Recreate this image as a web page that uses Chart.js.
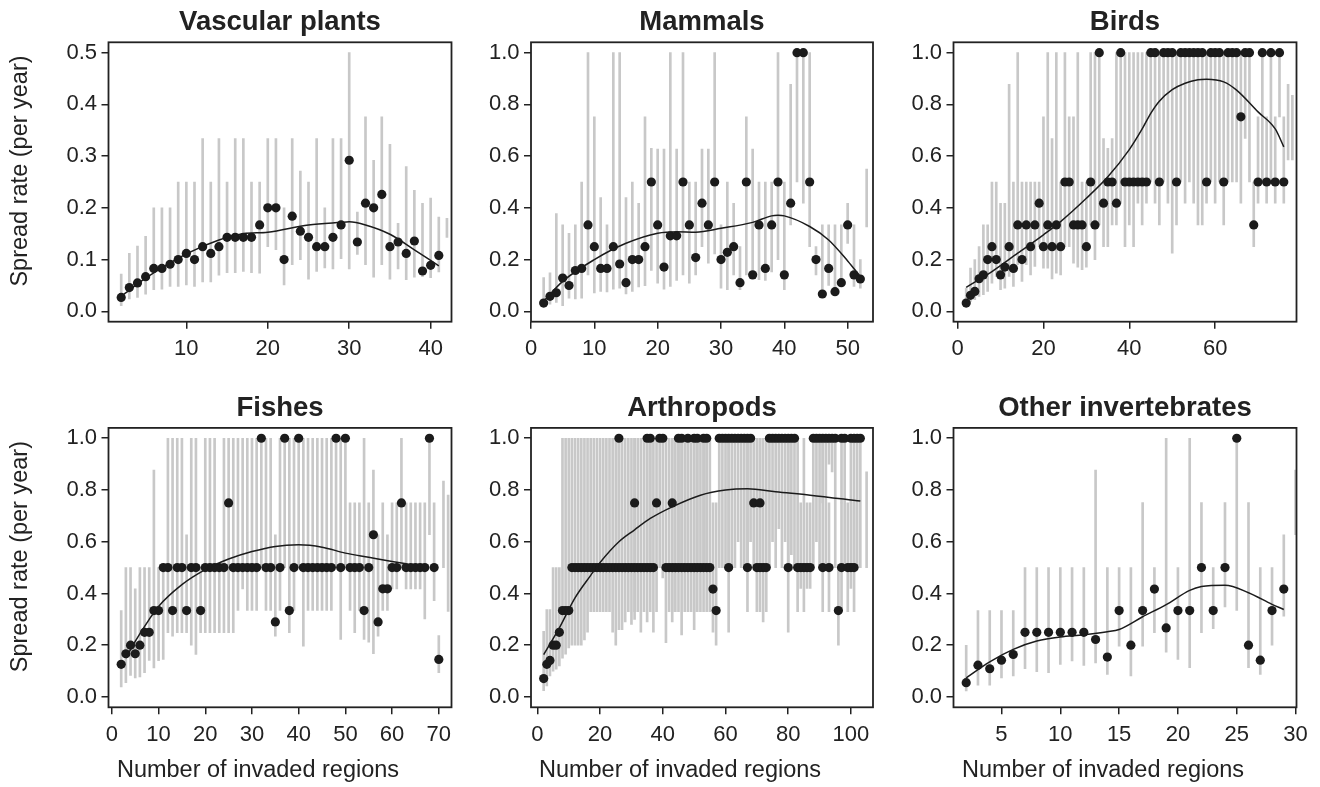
<!DOCTYPE html>
<html>
<head>
<meta charset="utf-8">
<title>Spread rate by number of invaded regions</title>
<script src="https://cdn.jsdelivr.net/npm/chart.js@4.4.1/dist/chart.umd.min.js"></script>
<style>
  html, body { margin: 0; padding: 0; background: #fff; }
  #wrap { position: relative; width: 1320px; height: 787px; overflow: hidden; }
  #wrap canvas { position: absolute; }
</style>
</head>
<body>
<div id="wrap">
  <canvas id="vasc"></canvas>
  <canvas id="mam"></canvas>
  <canvas id="bird"></canvas>
  <canvas id="fish"></canvas>
  <canvas id="arth"></canvas>
  <canvas id="inv"></canvas>
</div>
<script>
// ---------- data ----------
// each panel: X = number of invaded regions, Y = spread rate (null = bar only),
// LO / HI = ends of the grey interval, FitX / FitY = the smooth trend line

// Vascular plants
var vascX  = [2,3,4,5,6,7,8,9,10,11, 12,13,14,15,16,17,18,19,20,21, 22,23,24,25,26,27,28,29,30,31, 32,33,34,35,36,37,38,39,40,41, 42];
var vascY  = [.027,.046,.055,.067,.083,.083,.091,.100,.112,.100, .125,.112,.125,.143,.143,.143,.143,.167,.200,.200, .100,.184,.155,.143,.125,.125,.143,.167,.292,.134, .209,.200,.226,.125,.134,.112,.136,.078,.089,.108, null];
var vascLo = [.011,.024,.027,.033,.042,.043,.048,.048,.051,.048, .057,.057,.070,.075,.075,.077,.075,.074,.125,.119, .051,.090,.100,.062,.077,.084,.082,.102,.082,.110, .090,.066,.090,.062,.082,.061,.066,.067,.065,.076, .143];
var vascHi = [.072,.112,.126,.145,.200,.200,.200,.250,.250,.250, .334,.250,.334,.250,.334,.334,.250,.250,.334,.334, .200,.334,.271,.250,.334,.200,.334,.334,.500,.192, .376,.292,.376,.323,.170,.280,.234,.209,.219,.182, .180];
var vascFitX = [2,5,10,14,17,20,25,29,30,32,35,38,41];
var vascFitY = [.029,.064,.111,.138,.150,.153,.167,.172,.173,.167,.149,.119,.088];

// Mammals
var mamX  = [2,3,4,5,6,7,8,9,10,11, 12,13,14,15,16,17,18,19,20,21, 22,23,24,25,26,27,28,29,30,31, 32,33,34,35,36,37,38,39,40,41, 42,43,44,45,46,47,48,49,50,51, 52,53];
var mamY  = [.032,.058,.072,.129,.100,.158,.166,.334,.250,.166, .166,.250,.183,.111,.200,.200,.250,.500,.334,.171, .292,.292,.500,.334,.208,.418,.334,.500,.200,.228, .250,.111,.500,.141,.334,.166,.334,.500,.141,.418, 1,1,.500,.200,.067,.166,.076,.111,.334,.141, .125,null];
var mamLo = [.019,.028,.035,.022,.051,.048,.051,.141,.071,.077, .075,.086,.090,.067,.077,.094,.099,.158,.109,.086, .096,.120,.141,.109,.141,.250,.186,.222,.090,.084, .141,.084,.141,.141,.122,.120,.152,.200,.084,.334, .500,.418,.250,.141,.071,.100,.071,.096,.263,.096, .090,.326];
var mamHi = [.131,.149,.378,.334,.302,.334,.500,1,.752,.440, .334,1,1,.440,.500,.418,.752,.630,.627,.627, 1,.627,1,.500,.500,.627,.627,1,.334,.500, .418,.250,.752,.627,.500,.500,.500,1,.500,.878, 1,1,1,.250,.334,.334,.334,.334,.418,.334, .200,.550];
var mamFitX = [2,5,10,15,20,23,26,30,35,38,39,40,44,47,50,52];
var mamFitY = [.039,.116,.200,.263,.302,.308,.306,.321,.344,.369,.371,.369,.328,.276,.195,.135];

// Birds
var birdX  = [2,3,4,5,6,7,8,9,10,11, 12,13,14,15,16,17,18,19,20,21, 22,23,24,25,26,27,28,29,30,31, 32,33,34,35,36,37,38,39,40,41, 42,43,44,45,46,47,48,49,50,51, 52,53,54,55,56,57,58,59,60,61, 62,63,64,65,66,67,68,69,70,71, 72,73,74,75,76,77,78];
var birdY  = [.032,.062,.077,.126,.141,.200,.250,.200,.141,.171, .250,.166,.334,.200,.334,.250,.334,.418,.250,.334, .250,.334,.250,.500,.500,.334,.334,.334,.250,.500, .334,1,.418,.500,.500,.418,1,.500,.500,.500, .500,.500,.500,1,1,.500,1,1,1,.500, 1,1,1,1,1,1,.500,1,1,1, .500,1,1,1,.752,1,1,.334,.500,1, .500,1,.500,1,.500,null,null];
var birdLo = [.019,.038,.045,.058,.064,.077,.109,.135,.084,.090, .135,.096,.180,.116,.180,.141,.174,.250,.167,.167, .125,.148,.141,.250,.250,.186,.171,.161,.171,.334, .200,.334,.250,.250,.334,.334,.418,.250,.334,.250, .418,.334,.418,.500,.418,.334,.500,.418,.225,.334, .500,.418,.500,.418,.334,.334,.418,.500,.418,.500, .334,.500,.500,.500,.418,.668,.500,.250,.418,.500, .418,.500,.418,.752,.418,.585,.585];
var birdHi = [.090,.167,.200,.250,.334,.334,.500,.500,.418,.418, .878,.500,1,.500,.500,.500,.500,.500,.752,1, .668,1,.500,1,.752,.752,1,.500,.500,1, 1,1,.668,.630,.668,1,1,1,1,1, 1,1,1,1,1,1,1,1,1,1, 1,1,1,1,1,1,1,1,1,1, 1,1,1,1,1,1,1,.500,.752,1, .752,1,.752,1,.752,.878,.835];
var birdFitX = [2,8,14,20,24,30,35,40,43,45,47,50,53,56,58,62,65,70,74,76];
var birdFitY = [.093,.154,.225,.296,.347,.437,.520,.625,.705,.765,.812,.857,.882,.895,.897,.887,.855,.771,.705,.636];

// Fishes
var fishX  = [2,3,4,5,6,7,8,9,10,11, 12,13,14,15,16,17,18,19,20,21, 22,23,24,25,26,27,28,29,30,31, 32,33,34,35,36,37,38,39,40,41, 42,43,44,45,46,47,48,49,50,51, 52,53,54,55,56,57,58,59,60,61, 62,63,64,65,66,67,68,69,70,71, 72];
var fishY  = [.126,.167,.200,.167,.200,.250,.250,.334,.334,.500, .500,.334,.500,.500,.334,.500,.500,.334,.500,.500, .500,.500,.500,.750,.500,.500,.500,.500,.500,.500, 1,.500,.500,.290,.500,1,.334,.500,1,.500, .500,.500,.500,.500,.500,.500,1,.500,1,.500, .500,.500,.334,.500,.627,.290,.418,.418,.500,.500, .750,.500,.500,.500,.500,.500,1,.500,.145,null, null];
var fishLo = [.039,.055,.083,.074,.077,.094,.141,.112,.140,.145, .248,.235,.248,.248,.248,.200,.164,.248,.248,.248, .248,.248,.248,.248,.248,.334,.418,.334,.334,.334, .500,.334,.334,.235,.334,.500,.248,.334,.500,.196, .334,.334,.334,.334,.334,.334,.500,.222,.500,.334, .248,.334,.222,.212,.167,.235,.334,.334,.418,.418, .500,.418,.418,.418,.418,.302,.627,.372,.094,.500, .331];
var fishHi = [.334,.500,.500,.418,.500,.500,.500,.877,.500,.500, 1,1,1,1,.627,1,1,.500,1,1, 1,.500,1,1,1,1,1,1,1,1, 1,1,1,.627,1,1,1,1,1,1, 1,1,1,1,1,1,1,1,1,.750, .750,.750,1,.750,.877,.627,.750,.627,.750,.750, 1,.750,.750,.750,.750,.750,1,.750,.237,.834, .780];
var fishFitX = [3,5,8,10,15,20,25,30,35,40,45,50,55,60,63];
var fishFitY = [.150,.215,.300,.350,.434,.492,.533,.562,.582,.588,.579,.556,.540,.524,.515];

// Arthropods
var arthX  = [2,3,4,5,6,7,8,9,10,11, 12,13,14,15,16,17,18,19,20,21, 22,23,24,25,26,26,27,28,29,30, 31,31,32,33,34,35,35,36,36,37,
              38,39,40,41,42,43,43,44,45,45, 46,46,47,48,48,49,50,50,51,51, 52,53,53,54,54,55,56,57,58,59, 60,61,61,62,63,64,65,66,67,67,
              68,69,70,71,71,72,73,74,75,76, 77,78,79,80,80,81,82,83,84,85, 86,87,88,89,90,91,91,92,93,93, 94,95,96,97,97,98,99,100,100,101,
              101,102,103,105];
var arthY  = [.071,.126,.141,.200,.200,.250,.334,.334,.334,.500, .5,.5,.5,.5,.5,.5,.5,.5,.5,.5, .5,.5,.5,.5,1,.5,.5,.5,.5,.5, .75,.5,.5,.5,.5,1,.5,1,.5,.5,
              .75,1,1,.5,.5,.75,.5,.5,1,.5, 1,.5,.5,1,.5,.5,1,.5,1,.5, .5,1,.5,1,.5,.5,.417,.334,1,1, 1,1,.5,1,1,1,1,1,1,.5,
              1,.75,.5,.75,.5,.5,.5,1,1,1, 1,1,1,1,.5,1,1,.5,.5,.5, .5,.5,1,1,1,1,.5,1,1,.5, 1,1,.334,1,.5,1,.5,1,.5,1,
              .5,1,1,null];
var arthLo = [.024,.043,.081,.100,.107,.120,.150,.165,.190,.200, .20,.20,.20,.22,.25,.33,.33,.33,.33,.33, .33,.33,.25,.20,.50,.26,.26,.29,.33,.28, .33,.30,.33,.25,.33,.50,.29,.50,.33,.25,
              .33,.50,.46,.21,.33,.33,.29,.33,.50,.33, .50,.24,.33,.50,.33,.33,.33,.26,.50,.33, .33,.50,.33,.50,.33,.33,.25,.20,.50,.50, .50,.50,.25,.50,.50,.60,.50,.50,.50,.33,
              .60,.50,.33,.50,.33,.29,.33,.50,.60,.50, .65,.50,.60,.50,.25,.55,.50,.33,.42,.33, .42,.42,.50,.60,.50,.75,.33,.50,.90,.33, .87,.50,.20,.75,.33,.50,.33,.75,.42,.50,
              .33,.50,.50,.50];
var arthHi = [.254,.338,.338,.500,.500,.500,1,1,1,1, 1,1,1,1,1,1,1,1,1,1, 1,1,1,1,1,1,1,1,1,1, 1,1,1,1,1,1,1,1,1,1,
              1,1,1,1,1,1,1,1,1,1, 1,1,1,1,1,1,1,1,1,1, 1,1,1,1,1,1,.75,.75,1,1, 1,1,1,1,1,1,1,1,1,1,
              1,1,1,1,1,1,1,1,1,1, 1,1,1,1,1,1,1,1,.75,1, .75,.75,1,1,1,1,1,1,1,.75, 1,1,.5,1,.75,1,.75,1,.75,1,
              .75,1,1,.87];
var arthFitX = [2,7,12,17,20,26,31,36,43,52,60,67,76,87,103];
var arthFitY = [.164,.267,.383,.470,.520,.600,.646,.690,.735,.780,.800,.805,.793,.780,.757];

// Other invertebrates
var invX  = [2,3,4,5,6,7,8,9,10,11, 12,13,14,15,16,17,18,19,20,21, 22,23,24,25,26,27,28,29,30];
var invY  = [.055,.123,.109,.142,.164,.250,.250,.250,.250,.250, .250,.222,.154,.334,.200,.334,.417,.267,.334,.334, .500,.334,.500,1,.200,.142,.334,.417,null];
var invLo = [.023,.046,.046,.074,.081,.109,.098,.094,.126,.139, .122,.132,.087,.196,.081,.196,.248,.173,.145,.113, .248,.264,.348,.334,.113,.087,.200,.312,.627];
var invHi = [.200,.334,.334,.334,.334,.500,.500,.500,.500,.500, .500,.877,.500,.500,.500,.751,.500,1,.500,1, .751,.500,.751,1,.751,.500,.500,.627,.877];
var invFitX = [2,4,6,8,10,12,14,15,17,19,21,22,24,26,28,29];
var invFitY = [.074,.136,.184,.216,.232,.240,.252,.261,.310,.357,.412,.427,.432,.403,.358,.338];

// tick labels
var vascTicks = [10, 20, 30, 40];
var mamTicks  = [0, 10, 20, 30, 40, 50];
var birdTicks = [0, 20, 40, 60];
var fishTicks = [0, 10, 20, 30, 40, 50, 60, 70];
var arthTicks = [0, 20, 40, 60, 80, 100];
var invTicks  = [5, 10, 15, 20, 25, 30];
var rateTicksLow = [0, 0.1, 0.2, 0.3, 0.4, 0.5];
var rateTicks    = [0, 0.2, 0.4, 0.6, 0.8, 1.0];


// ---------- layout ----------
var FONT = "'Liberation Sans', Arial, Helvetica, sans-serif";
var INK = '#222';
Chart.defaults.font.family = FONT;
Chart.defaults.color = INK;
Chart.defaults.animation = false;

var cols = [
  {left: 0,   width: 460, boxL: 108.5, boxR: 451.5},
  {left: 460, width: 420, boxL: 531,   boxR: 873},
  {left: 880, width: 440, boxL: 953.5, boxR: 1296.5}
];
var rows = [
  {top: 0,   height: 390, boxB: 321.7, titlePad: {top: 6.4, bottom: 2.9}},
  {top: 390, height: 397, boxB: 707.3, titlePad: {top: 2.0, bottom: 2.9}}
];

// R style closed box round the plot region
var frame = {
  id: 'frame',
  afterDatasetsDraw: function (chart) {
    var a = chart.chartArea, ctx = chart.ctx;
    ctx.save();
    ctx.strokeStyle = INK;
    ctx.lineWidth = 1.8;
    ctx.strokeRect(a.left, a.top, a.right - a.left, a.bottom - a.top);
    ctx.restore();
  }
};

// axis titles sit a bit off the plot centre, as in the figure region of the original
var axisText = {
  id: 'axisText',
  afterDraw: function (chart, args, opts) {
    var a = chart.chartArea, ctx = chart.ctx;
    ctx.save();
    ctx.fillStyle = INK;
    ctx.font = '23.5px ' + FONT;
    ctx.textAlign = 'center';
    ctx.textBaseline = 'middle';
    if (opts.x) ctx.fillText(opts.x, (a.left + a.right) / 2 - 22, chart.height - 16);
    if (opts.y) {
      ctx.translate(20.5, (a.top + a.bottom) / 2 - 11);
      ctx.rotate(-Math.PI / 2);
      ctx.fillText(opts.y, 0, 0);
    }
    ctx.restore();
  }
};

function panel(id, title, r, c, xs, ys, lo, hi, fitX, fitY, xTicks, xMin, xMax, yTicks, yMin, yMax) {
  var row = rows[r], col = cols[c];
  var cv = document.getElementById(id);
  cv.width = col.width;
  cv.height = row.height;
  cv.style.left = col.left + 'px';
  cv.style.top = row.top + 'px';
  cv.style.width = col.width + 'px';
  cv.style.height = row.height + 'px';

  var bars = [], pts = [], fit = [];
  for (var i = 0; i < xs.length; i++) {
    bars.push({x: xs[i], y: [lo[i], hi[i]]});
    if (ys[i] !== null) pts.push({x: xs[i], y: ys[i]});
  }
  for (var j = 0; j < fitX.length; j++) fit.push({x: fitX[j], y: fitY[j]});

  var tickGrid = {display: true, drawOnChartArea: false, drawTicks: true, tickLength: 7, color: INK, lineWidth: 1.5};

  return new Chart(cv.getContext('2d'), {
    type: 'scatter',
    data: {
      datasets: [
        {type: 'bar', data: bars, backgroundColor: '#c8c8c8', barThickness: 2, grouped: false, order: 3},
        {type: 'scatter', data: pts, pointRadius: 4.6, pointBackgroundColor: '#1b1b1b', pointBorderWidth: 0, order: 2},
        {type: 'line', data: fit, borderColor: '#1b1b1b', borderWidth: 1.5, pointRadius: 0, fill: false,
         cubicInterpolationMode: 'monotone', order: 1}
      ]
    },
    options: {
      responsive: false,
      events: [],
      layout: {padding: {left: 0, top: 0, bottom: 0, right: col.left + col.width - col.boxR}},
      plugins: {
        legend: {display: false},
        tooltip: {enabled: false},
        title: {display: true, fullSize: false, text: title, color: INK,
                font: {size: 27.5, weight: 'bold'}, padding: row.titlePad},
        axisText: {
          x: r === 1 ? 'Number of invaded regions' : '',
          y: c === 0 ? 'Spread rate (per year)' : ''
        }
      },
      scales: {
        x: {
          type: 'linear', offset: false, min: xMin, max: xMax,
          grid: Object.assign({offset: false}, tickGrid),
          border: {display: false},
          ticks: {font: {size: 22}, color: INK, padding: 7, maxRotation: 0,
                  callback: function (v) { return String(v); }},
          afterBuildTicks: function (s) { s.ticks = xTicks.map(function (v) { return {value: v}; }); },
          afterFit: function (s) { s.height = row.height - (row.boxB - row.top); }
        },
        y: {
          type: 'linear', min: yMin, max: yMax,
          grid: tickGrid,
          border: {display: false},
          ticks: {font: {size: 22}, color: INK, padding: 4.5,
                  callback: function (v) { return v.toFixed(1); }},
          afterBuildTicks: function (s) { s.ticks = yTicks.map(function (v) { return {value: v}; }); },
          afterFit: function (s) { s.width = col.boxL - col.left; }
        }
      }
    },
    plugins: [frame, axisText]
  });
}

panel('vasc', 'Vascular plants', 0, 0, vascX, vascY, vascLo, vascHi, vascFitX, vascFitY, vascTicks, 0.44, 42.56, rateTicksLow, -0.02, 0.52);
panel('mam', 'Mammals', 0, 1, mamX, mamY, mamLo, mamHi, mamFitX, mamFitY, mamTicks, 0, 54, rateTicks, -0.04, 1.04);
panel('bird', 'Birds', 0, 2, birdX, birdY, birdLo, birdHi, birdFitX, birdFitY, birdTicks, -0.96, 78.96, rateTicks, -0.04, 1.04);
panel('fish', 'Fishes', 1, 0, fishX, fishY, fishLo, fishHi, fishFitX, fishFitY, fishTicks, -0.72, 72.72, rateTicks, -0.04, 1.04);
panel('arth', 'Arthropods', 1, 1, arthX, arthY, arthLo, arthHi, arthFitX, arthFitY, arthTicks, -2.04, 107.04, rateTicks, -0.04, 1.04);
panel('inv', 'Other invertebrates', 1, 2, invX, invY, invLo, invHi, invFitX, invFitY, invTicks, 0.92, 30.08, rateTicks, -0.04, 1.04);
</script>
</body>
</html>
